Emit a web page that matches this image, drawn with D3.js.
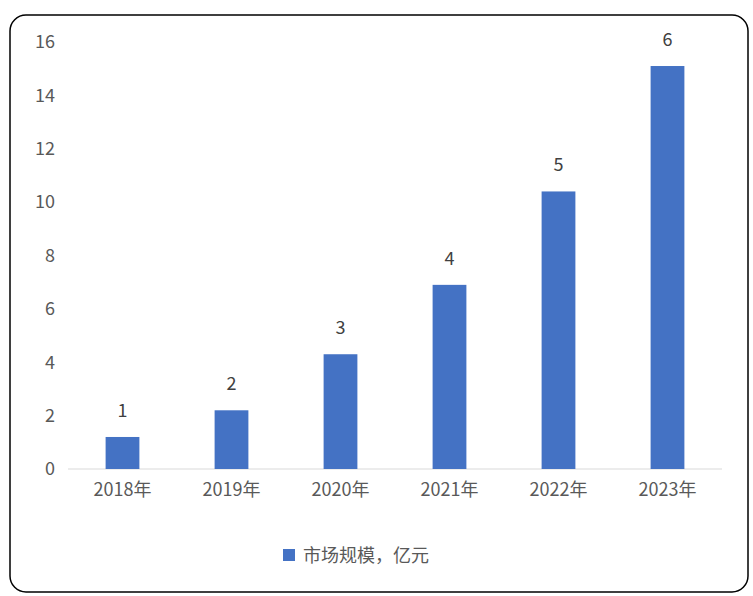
<!DOCTYPE html><html><head><meta charset="utf-8">
<script src="https://cdn.jsdelivr.net/npm/d3@7"></script>
<style>body{margin:0;background:#fff}</style></head><body>
<svg id="c" width="753" height="596"></svg>
<script>
const categories=["2018年","2019年","2020年","2021年","2022年","2023年"];
const values=[1.2,2.2,4.3,6.9,10.4,15.1];
const dataLabels=["1","2","3","4","5","6"];
const yTicks=[0,2,4,6,8,10,12,14,16];
const seriesName="市场规模，亿元";
const svg=d3.select("#c");
const font="'Noto Sans CJK SC','Liberation Sans',sans-serif";
svg.append("rect").attr("x",10).attr("y",15).attr("width",738).attr("height",577).attr("rx",16)
 .attr("fill","#fff").attr("stroke","#000").attr("stroke-width",1.5);
const x=d3.scaleBand().domain(categories).range([68,722]).paddingInner(0.69).paddingOuter(0.345);
const y=d3.scaleLinear().domain([0,16]).range([469,42]);
const yAx=svg.append("g").attr("transform","translate(55,0)").call(d3.axisLeft(y).tickValues(yTicks).tickSize(0).tickPadding(0));
yAx.select(".domain").remove();
yAx.selectAll("text").attr("font-family",font).attr("font-size",18).attr("fill","#595959");
svg.append("line").attr("x1",68).attr("x2",722).attr("y1",y(0)).attr("y2",y(0)).attr("stroke","#d9d9d9").attr("stroke-width",1);
svg.selectAll(".bar").data(values).enter().append("rect")
 .attr("x",(d,i)=>x(categories[i])).attr("width",x.bandwidth())
 .attr("y",d=>y(d)).attr("height",d=>y(0)-y(d)).attr("fill","#4472C4");
svg.selectAll(".lbl").data(values).enter().append("text")
 .attr("x",(d,i)=>x(categories[i])+x.bandwidth()/2).attr("y",d=>y(d)-20)
 .attr("text-anchor","middle").attr("font-family",font).attr("font-size",18).attr("fill","#404040")
 .text((d,i)=>dataLabels[i]);
const xAx=svg.append("g").attr("transform",`translate(0,${y(0)})`).call(d3.axisBottom(x).tickSize(0).tickPadding(14));
xAx.select(".domain").remove();
xAx.selectAll("text").attr("font-family",font).attr("font-size",18).attr("fill","#595959");
svg.append("rect").attr("x",283).attr("y",549).attr("width",12).attr("height",12).attr("fill","#4472C4");
svg.append("text").attr("x",303).attr("y",562).attr("font-family",font).attr("font-size",18).attr("fill","#595959").text(seriesName);
</script></body></html>
